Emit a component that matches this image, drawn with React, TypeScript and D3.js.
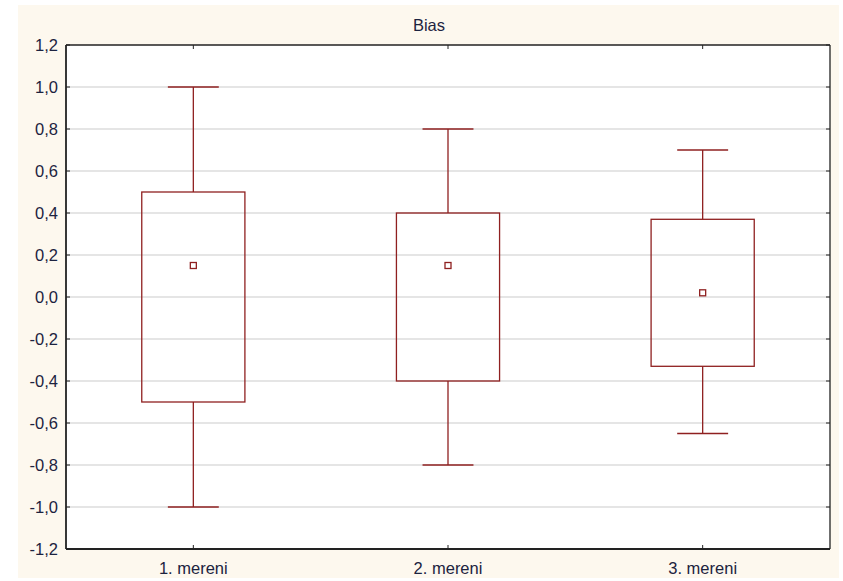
import React from "react";
import * as d3 from "d3";

const categories = ["1. mereni", "2. mereni", "3. mereni"];
const means = [0.15, 0.15, 0.02];
const boxLow = [-0.5, -0.4, -0.33];
const boxHigh = [0.5, 0.4, 0.37];
const whiskerLow = [-1.0, -0.8, -0.65];
const whiskerHigh = [1.0, 0.8, 0.7];
const yTicks = [-1.2, -1.0, -0.8, -0.6, -0.4, -0.2, 0, 0.2, 0.4, 0.6, 0.8, 1.0, 1.2];
const title = "Bias";

const W = 843, H = 581;
const left = 66, right = 830, top = 45, bottom = 549;
const red = "#8f2020";
const font = "'Liberation Sans', Arial, sans-serif";
const fs = 16.5;

export default function App() {
  const x = d3.scaleBand<string>().domain(categories).range([left, right]);
  const y = d3.scaleLinear().domain([-1.2, 1.2]).range([bottom, top]);
  const bw = x.bandwidth();
  const fmt = (v: number) => v.toFixed(1).replace(".", ",").replace("-0,0", "0,0");
  return (
    <svg width={W} height={H} style={{ position: "absolute", left: 0, top: 0 }} fontFamily={font}>
      <rect x={0} y={0} width={W} height={H} fill="#fff" />
      <rect x={18} y={5} width={821} height={573} fill="#fdf8ee" />
      <rect x={left} y={top} width={right - left} height={bottom - top} fill="#fff" />
      <text x={429} y={31} textAnchor="middle" fontSize={fs} fill="#1c2340">{title}</text>
      {yTicks.map((t) => (
        <g key={t}>
          {t > -1.2 && t < 1.2 && (
            <line x1={left} x2={right} y1={y(t)} y2={y(t)} stroke="#dcdcdc" strokeWidth={1.3} />
          )}
          <line x1={left} x2={left + 4} y1={y(t)} y2={y(t)} stroke="#222" strokeWidth={1} />
          <line x1={right - 4} x2={right} y1={y(t)} y2={y(t)} stroke="#222" strokeWidth={1} />
          <text x={left - 8} y={y(t) + 6} textAnchor="end" fontSize={fs} fill="#1c2340">{fmt(t)}</text>
        </g>
      ))}
      {categories.map((c, i) => {
        const cx = x(c)! + bw / 2;
        const boxW = bw * 0.405;
        const capW = bw * 0.2;
        return (
          <g key={c}>
            <line x1={cx} x2={cx} y1={top} y2={top + 4} stroke="#222" />
            <line x1={cx} x2={cx} y1={bottom - 4} y2={bottom} stroke="#222" />
            <text x={cx} y={bottom + 25} textAnchor="middle" fontSize={fs} fill="#1c2340">{c}</text>
            <line x1={cx} x2={cx} y1={y(whiskerHigh[i])} y2={y(boxHigh[i])} stroke={red} strokeWidth={1.3} />
            <line x1={cx} x2={cx} y1={y(boxLow[i])} y2={y(whiskerLow[i])} stroke={red} strokeWidth={1.3} />
            <line x1={cx - capW / 2} x2={cx + capW / 2} y1={y(whiskerHigh[i])} y2={y(whiskerHigh[i])} stroke={red} strokeWidth={1.3} />
            <line x1={cx - capW / 2} x2={cx + capW / 2} y1={y(whiskerLow[i])} y2={y(whiskerLow[i])} stroke={red} strokeWidth={1.3} />
            <rect x={cx - boxW / 2} y={y(boxHigh[i])} width={boxW} height={y(boxLow[i]) - y(boxHigh[i])} fill="none" stroke={red} strokeWidth={1.3} />
            <rect x={cx - 3} y={y(means[i]) - 3} width={6} height={6} fill="#fff" stroke={red} strokeWidth={1.3} />
          </g>
        );
      })}
      <line x1={left} x2={right} y1={top} y2={top} stroke="#222" strokeWidth={1.3} />
      <line x1={right} x2={right} y1={top} y2={bottom} stroke="#222" strokeWidth={1.3} />
      <line x1={left} x2={left} y1={top} y2={bottom} stroke="#222" strokeWidth={1.8} />
      <line x1={left} x2={right} y1={bottom} y2={bottom} stroke="#222" strokeWidth={1.8} />
    </svg>
  );
}
